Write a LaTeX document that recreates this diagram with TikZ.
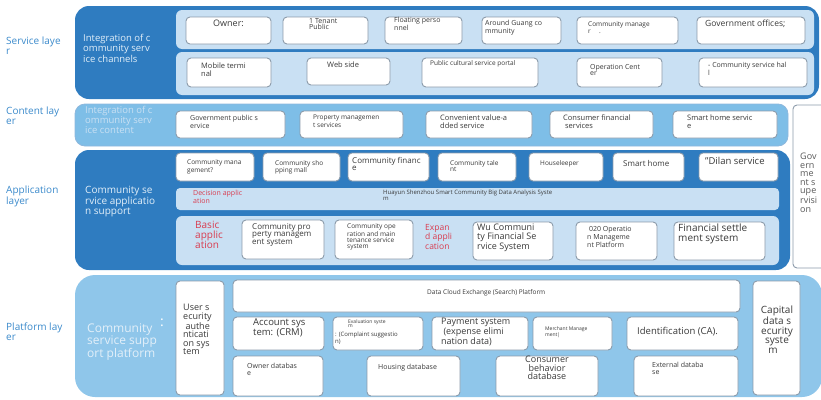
\documentclass[tikz,border=0pt]{standalone}
\usepackage{fontspec}
\setmainfont{Open Sans}
\usetikzlibrary{calc}
\definecolor{dblue}{HTML}{2F7CC0}
\definecolor{cband}{HTML}{7EBEE7}
\definecolor{pband}{HTML}{8FC6EA}
\definecolor{lpanel}{HTML}{C9E0F3}
\definecolor{bgray}{HTML}{8C9BAA}
\definecolor{lbl}{HTML}{3B8ACB}
\definecolor{txtc}{HTML}{3A3A3A}
\definecolor{redt}{HTML}{D93B4E}
\definecolor{wtxt}{HTML}{E2EFF9}
\tikzset{
 fs/.style={font=\fontsize{#1}{\dimexpr#1pt*95/100\relax}\selectfont},
 band/.style={rounded corners=14pt, inner sep=0pt},
 box/.style={draw=bgray, fill=white, rounded corners=4pt, line width=0.9pt, inner sep=0pt},
 panel/.style={fill=lpanel, rounded corners=6pt, inner sep=0pt},
 txt/.style={anchor=north west, align=left, inner sep=0pt, text=txtc},
 lay/.style={anchor=north west, align=left, inner sep=0pt, text=lbl, fs=10},
 wt/.style={anchor=north west, align=left, inner sep=0pt, text=wtxt, fs=9.5},
 rt/.style={anchor=north west, align=left, inner sep=0pt, text=redt},
}
\newcommand\R[6]{\node[#6,minimum width={(#4-#2)*1pt},minimum height={(#5-#3)*1pt}] (#1) at ({(#2+#4)/2},{(#3+#5)/2}) {};}
\newcommand\B[9]{\R{#1}{#2}{#3}{#4}{#5}{box}\node[txt,fs=#6] (#1t) at (#7,#8) {#9};}
\begin{document}
\begin{tikzpicture}[x=1pt,y=-1pt]
\useasboundingbox (0,0) rectangle (821,399);
\clip (0,0) rectangle (821,399);
% ---------- layer labels
\node[lay] (lserv) at (6,37) {Service laye\\r};
\node[lay] (lcont) at (6,107) {Content lay\\er};
\node[lay] (lapp) at (6,186) {Application\\layer};
\node[lay] (lplat) at (6,323) {Platform lay\\er};
% ---------- service layer
\R{sband}{75}{6}{819}{99}{band,fill=dblue}
\R{spanA}{176}{10}{814}{49}{panel}
\R{spanB}{176}{52}{814}{95}{panel}
\node[wt] (stext) at (83,34) {Integration of c\\ommunity serv\\ice channels};
\B{own}{186}{17}{271}{44}{9}{213}{20}{Owner:}
\B{ten}{283}{17}{368}{44}{7}{309}{18}{1 Tenant\\Public}
\B{flo}{385}{17}{462}{44}{7}{394}{17}{Floating perso\\nnel}
\B{aro}{482}{17}{561}{44}{7}{485}{20}{Around Guang co\\mmunity}
\B{cma}{577}{17}{678}{44}{6.5}{588}{22}{Community manage\\r \quad .}
\B{gov}{697}{17}{805}{44}{8.5}{705}{20}{Government offices;}
\B{mob}{187}{58}{271}{87}{7.5}{201}{63}{Mobile termi\\nal}
\B{web}{307}{58}{390}{85}{7.5}{327}{62}{Web side}
\B{pub}{422}{58}{538}{87}{6.5}{430}{60}{Public cultural service portal}
\B{ope}{577}{58}{662}{87}{7}{590}{64}{Operation Cent\\er}
\B{hal}{699}{58}{807}{87}{7}{708}{62}{- Community service hal\\l}
% ---------- government supervision
\R{gsup}{793}{105}{830}{268}{box}
\node[txt,fs=9,text=black!65] (gsupt) at (800,153) {Gov\\ern\\me\\nt s\\upe\\rvisi\\on};
% ---------- content layer
\R{cband}{75}{104}{788}{146}{band,rounded corners=10pt,fill=cband,draw=dblue!55,line width=0.8pt}
\node[wt,text=lpanel] (ctext) at (85,106) {Integration of c\\ommunity serv\\ice content};
\B{gps}{176}{111}{285}{138}{7}{190}{115}{Government public s\\ervice}
\B{pms}{300}{111}{403}{138}{6.5}{313}{115}{Property managemen\\t services}
\B{cva}{426}{111}{532}{138}{7.5}{440}{115}{Convenient value-a\\dded service}
\B{cfs}{550}{111}{653}{138}{7.5}{563}{115}{Consumer financial\\\ services}
\B{shs}{673}{111}{777}{138}{7.5}{687}{115}{Smart home servic\\e}
% ---------- application layer
\R{aband}{75}{150}{790}{270}{band,fill=dblue}
\R{apanA}{176}{188}{779}{210}{panel,rounded corners=4pt}
\R{apanB}{176}{216}{779}{265}{panel}
\node[wt,fs=10] (atext) at (85,186) {Community se\\rvice applicatio\\n support};
\B{amg}{176}{153}{254}{181}{6.5}{187}{160}{Community mana\\gement?}
\B{ash}{263}{153}{340}{181}{6.5}{275}{160}{Community sho\\pping mall}
\B{afi}{348}{153}{429}{181}{8}{352}{157}{Community financ\\e}
\B{ata}{438}{153}{516}{181}{6.5}{450}{160}{Community tale\\nt}
\B{aho}{529}{153}{603}{181}{6.5}{540}{160}{Houseleeper}
\B{asm}{613}{153}{684}{181}{8}{623}{160}{Smart home}
\B{adi}{699}{153}{778}{181}{9.5}{705}{157}{"Dilan service}
\node[rt,fs=7] (adec) at (193,190) {Decision applic\\ation};
\node[txt,fs=6] (ahua) at (383,190) {Huayun Shenzhou Smart Community Big Data Analysis Syste\\m};
\node[rt,fs=10] (abas) at (195,221) {Basic\\applic\\ation};
\B{apm}{242}{220}{324}{259}{8}{252}{223}{Community pro\\perty managem\\ent system}
\B{aom}{335}{220}{413}{259}{6.5}{347}{224}{Community ope\\ration and main\\tenance service\\system}
\node[rt,fs=8.5] (aexp) at (425,224) {Expan\\d appli\\cation};
\B{awu}{473}{222}{553}{260}{9}{477}{224}{Wu Communi\\ty Financial Se\\rvice System}
\B{a020}{576}{222}{657}{260}{7}{587}{226}{\ 020 Operatio\\n Manageme\\nt Platform}
\B{afs}{674}{222}{765}{260}{10}{678}{224}{Financial settle\\ment system}
% ---------- platform layer
\R{pband}{75}{275}{822}{397}{band,rounded corners=20pt,fill=pband}
\node[wt,fs=12] (ptext) at (87,323) {Community\\service supp\\ort platform};
\node[wt,fs=14,text=white] (pcol) at (160,319) {:};
\R{pusr}{176}{281}{224}{395}{box}
\node[txt,fs=9] (pusrt) at (183,304) {User s\\ecurity\\\ authe\\nticati\\on sys\\tem};
\B{pdc}{233}{280}{740}{312}{6.5}{427}{289}{Data Cloud Exchange (Search) Platform}
\B{pacc}{233}{317}{324}{350}{9.5}{253}{318}{Account sys\\tem: (CRM)}
\B{peva}{333}{317}{423}{350}{5}{348}{319}{Evaluation syste\\m}
\node[txt,fs=6] (pevb) at (335,332) {: (Complaint suggestio\\n)};
\B{ppay}{432}{317}{528}{350}{9}{441}{318}{Payment system\\\ (expense elimi\\nation data)}
\B{pmer}{533}{317}{612}{350}{5}{545}{326}{Merchant Manage\\ment|}
\B{pid}{627}{317}{738}{350}{9.5}{637}{327}{Identification (CA).}
\B{pown}{233}{356}{323}{396}{7}{247}{363}{Owner databas\\e}
\B{phou}{367}{356}{460}{396}{7}{378}{364}{Housing database}
\R{pcon}{496}{356}{598}{396}{box}
\node[txt,fs=9,align=center,anchor=north] (pcont) at (547,356) {Consumer\\behavior\\database};
\B{pext}{634}{356}{738}{396}{7}{652}{362}{External databa\\se}
\R{pcap}{753}{281}{800}{395}{box}
\node[txt,fs=10,align=center,anchor=north] (pcapt) at (777,306) {Capital\\data s\\ecurity\\syste\\\hspace*{-8pt}m};
\end{tikzpicture}
\end{document}
